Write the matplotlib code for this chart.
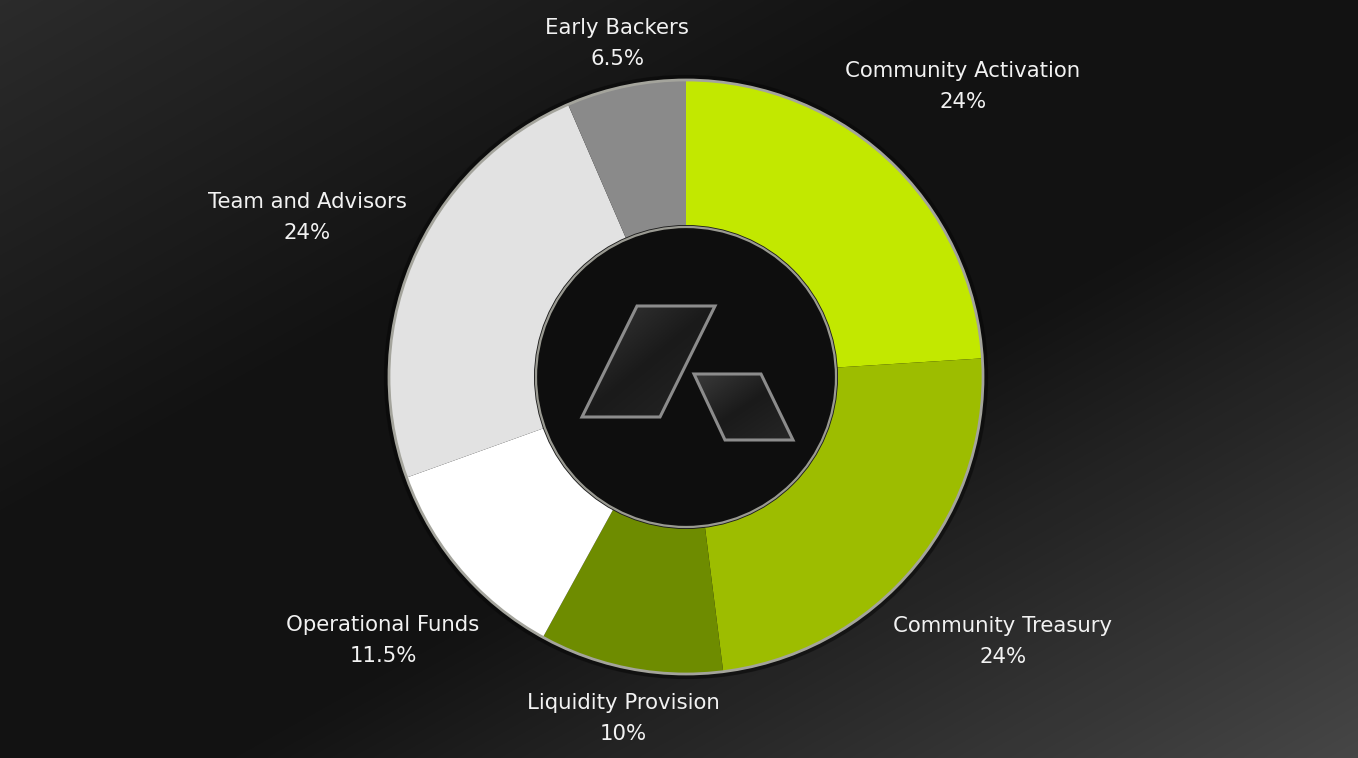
import numpy as np
import matplotlib
matplotlib.use("Agg")
import matplotlib.pyplot as plt
from matplotlib.colors import LinearSegmentedColormap
from matplotlib.patches import Circle, Polygon

# ---- data ----
categories = ["Community Activation", "Community Treasury", "Liquidity Provision",
              "Operational Funds", "Team and Advisors", "Early Backers"]
shares = [24, 24, 10, 11.5, 24, 6.5]
share_labels = ["24%", "24%", "10%", "11.5%", "24%", "6.5%"]
colors = ["#c2e800", "#9dbd00", "#6e8c00", "#ffffff", "#e2e2e2", "#8a8a8a"]

# label anchor positions (pixels, top-left origin)
label_pos = [(963, 71), (1003, 626), (623, 703), (383, 625), (307, 202), (617, 28)]

W, H = 1358, 758
fig = plt.figure(figsize=(W / 100, H / 100), dpi=100)
ax = fig.add_axes([0, 0, 1, 1])
ax.set_xlim(0, W)
ax.set_ylim(0, H)
ax.set_aspect("equal")
ax.axis("off")

# background gradient (row 0 = top of image)
yy, xx = np.mgrid[0:H, 0:W]
t = (xx / W + yy / H) / 2.0
bg_cmap = LinearSegmentedColormap.from_list(
    "bg", [(0.0, "#2b2b2b"), (0.35, "#121212"), (0.58, "#121212"), (1.0, "#464646")])
ax.imshow(bg_cmap(t), extent=[0, W, 0, H], origin="upper", zorder=0, aspect="auto")

cx, cy = 686, H - 377
R_out, R_in = 297, 150

# shadow ring
ax.add_patch(Circle((cx, cy), R_out + 3, facecolor="none", edgecolor="#050505",
                    lw=3, alpha=0.5, zorder=1))

wedges, _ = ax.pie(shares, colors=colors, startangle=90, counterclock=False,
                   radius=R_out, center=(cx, cy),
                   wedgeprops=dict(width=R_out - R_in, edgecolor="none", linewidth=0),
                   frame=True)
for w in wedges:
    w.set_zorder(2)
ax.set_xlim(0, W)
ax.set_ylim(0, H)
ax.axis("off")

# outer rim
ax.add_patch(Circle((cx, cy), R_out, facecolor="none", edgecolor="#a4a49c", lw=2.0, zorder=3))
# inner disc
ax.add_patch(Circle((cx, cy), R_in + 2, facecolor="#1c1c1c", edgecolor="none", zorder=3))
ax.add_patch(Circle((cx, cy), R_in, facecolor="#0e0e0e", edgecolor="#9a9a92", lw=1.6, zorder=4))


def px(p):
    return (p[0], H - p[1])


def logo_shape(pts):
    verts = [px(p) for p in pts]
    poly = Polygon(verts, closed=True, facecolor="none", edgecolor="#8c8c8c", lw=2.2, zorder=6)
    ax.add_patch(poly)
    xs = [v[0] for v in verts]
    ys = [v[1] for v in verts]
    gy, gx = np.mgrid[0:64, 0:64]
    g = (gx + (63 - gy)) / 126.0
    grad = LinearSegmentedColormap.from_list("lg", ["#3a3a3a", "#1a1a1a", "#262626"])(g)
    im = ax.imshow(grad, extent=[min(xs), max(xs), min(ys), max(ys)], origin="lower",
                   zorder=5, aspect="auto")
    clip = Polygon(verts, closed=True, transform=ax.transData)
    im.set_clip_path(clip)


logo_shape([(637, 306), (715, 306), (660, 417), (582, 417)])
logo_shape([(694, 374), (761, 374), (793, 440), (725, 440)])
ax.set_xlim(0, W)
ax.set_ylim(0, H)

font = "DejaVu Sans"
for name, pct, (x, y) in zip(categories, share_labels, label_pos):
    ax.text(x, H - y, name, ha="center", va="center", color="#f2f2f2",
            fontsize=15.3, family=font, zorder=7)
    ax.text(x, H - y - 31, pct, ha="center", va="center", color="#f2f2f2",
            fontsize=15.3, family=font, zorder=7)

fig.savefig("out.png", dpi=100, facecolor="#111111")
